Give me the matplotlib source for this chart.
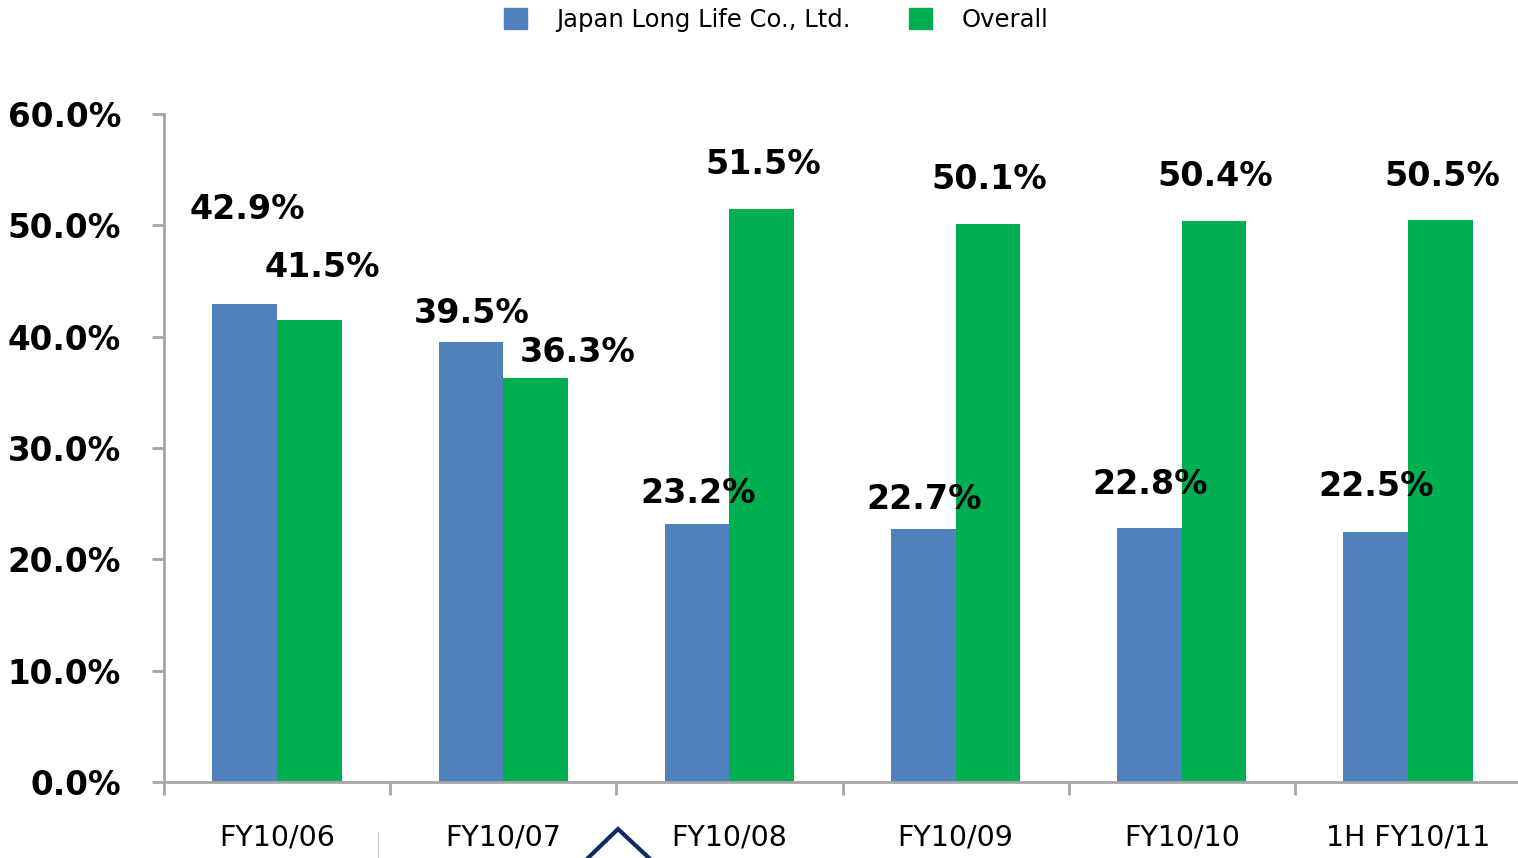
import matplotlib
matplotlib.use('Agg')
import matplotlib.pyplot as plt
from matplotlib.lines import Line2D
from matplotlib.patches import Patch
import numpy as np

# Datos del grafico
categories = ['FY10/06', 'FY10/07', 'FY10/08', 'FY10/09', 'FY10/10', '1H FY10/11']
japan_long_life = [42.9, 39.5, 23.2, 22.7, 22.8, 22.5]
overall = [41.5, 36.3, 51.5, 50.1, 50.4, 50.5]
y_ticks = [0, 10, 20, 30, 40, 50, 60]

# Desplazamiento de las etiquetas (x en categorias, y en puntos %)
blue_label_offsets = [(-0.13, 8.5), (-0.14, 2.6), (-0.14, 2.7), (-0.14, 2.7), (-0.14, 3.9), (-0.14, 4.0)]
green_label_offsets = [(0.20, 4.7), (0.33, 2.3), (0.15, 4.0), (0.15, 4.0), (0.15, 4.0), (0.15, 3.9)]

BLUE = '#4f81bd'
GREEN = '#00b050'
AXIS_GRAY = '#a6a6a6'

fig = plt.figure(figsize=(15.18, 8.58), dpi=100)
ax = fig.add_axes([164 / 1518, 76 / 858, 1357 / 1518, 668 / 858])

x = np.arange(len(categories))
w = 0.286
ax.bar(x - w / 2, japan_long_life, width=w, color=BLUE, zorder=2)
ax.bar(x + w / 2, overall, width=w, color=GREEN, zorder=2)

# Etiquetas de datos
for i in range(len(categories)):
    dx, dy = blue_label_offsets[i]
    ax.text(x[i] + dx, japan_long_life[i] + dy, f'{japan_long_life[i]:.1f}%',
            ha='center', va='center', fontsize=24, fontweight='bold', color='black')
    dx, dy = green_label_offsets[i]
    ax.text(x[i] + dx, overall[i] + dy, f'{overall[i]:.1f}%',
            ha='center', va='center', fontsize=24, fontweight='bold', color='black')

# Ejes
ax.set_xlim(-0.5, len(categories) - 0.5)
ax.set_ylim(0, 60)
ax.set_yticks(y_ticks)
ax.set_yticklabels([f'{v:.1f}%' for v in y_ticks], fontsize=23.5, fontweight='bold')
ax.set_xticks(x)
ax.set_xticklabels(categories, fontsize=20.5)
ax.set_xticks(np.arange(len(categories) + 1) - 0.5, minor=True)
ax.tick_params(axis='x', which='major', length=0, pad=30)
ax.tick_params(axis='x', which='minor', length=9, width=2, color=AXIS_GRAY, direction='out')
ax.tick_params(axis='y', length=9, width=2, color=AXIS_GRAY, pad=22)
for side in ['top', 'right']:
    ax.spines[side].set_visible(False)
for side in ['left', 'bottom']:
    ax.spines[side].set_color(AXIS_GRAY)
    ax.spines[side].set_linewidth(2)

# Leyenda
handles = [Patch(color=BLUE, label='Japan Long Life Co., Ltd.'),
           Patch(color=GREEN, label='Overall')]
fig.legend(handles=handles, loc='center', bbox_to_anchor=(776 / 1518, 1 - 20 / 858),
           ncol=2, frameon=False, fontsize=17.5, handlelength=0.95, handleheight=0.95,
           handletextpad=1.2, columnspacing=2.4)

# Restos de la diapositiva en el borde inferior
fig.add_artist(Line2D([378 / 1518, 378 / 1518], [0, 26 / 858], color='#d0d0d0', lw=1))
fig.add_artist(Line2D([588 / 1518, 618 / 1518, 649 / 1518], [0, 29 / 858, 0],
                      color='#0d2b5e', lw=3, solid_joinstyle='miter'))

fig.savefig('out.png', dpi=100)
